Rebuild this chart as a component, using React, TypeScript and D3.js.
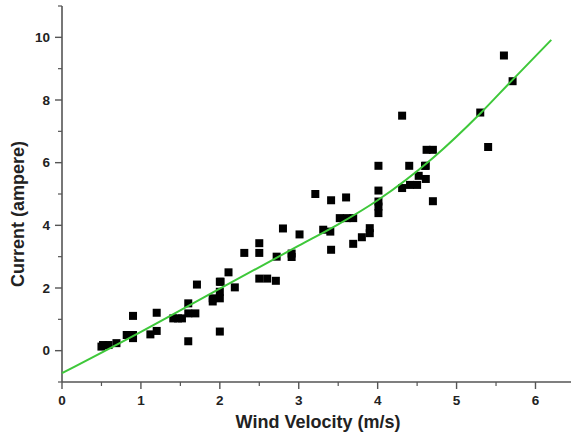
import { useEffect, useRef } from 'react';
import * as d3 from 'd3';

// wind velocity (m/s) of each measurement
const windVelocity = [
  0.5, 0.52, 0.59, 0.69, 0.82, 0.9, 0.9, 0.9, 1.12, 1.2, 1.2, 1.41, 1.47, 1.52, 1.6, 1.6, 1.6, 1.69, 1.71,
  1.91, 1.91, 2.0, 2.0, 2.0, 2.0, 2.01, 2.11, 2.19, 2.31, 2.5, 2.5, 2.5, 2.6, 2.71, 2.72, 2.8, 2.91, 2.91,
  3.01, 3.21, 3.31, 3.4, 3.41, 3.41, 3.52, 3.6, 3.61, 3.69, 3.69, 3.8, 3.9, 3.9,
  4.01, 4.01, 4.01, 4.01, 4.01, 4.31, 4.31, 4.4, 4.41, 4.5, 4.52, 4.61, 4.6, 4.61, 4.62, 4.7, 4.7,
  5.3, 5.4, 5.6, 5.71,
];
// measured current (ampere)
const current = [
  0.13, 0.18, 0.18, 0.24, 0.5, 0.5, 0.4, 1.11, 0.52, 0.63, 1.21, 1.03, 1.03, 1.03, 1.51, 1.19, 0.3, 1.19, 2.11,
  1.57, 1.67, 1.67, 2.2, 1.88, 0.61, 2.2, 2.5, 2.02, 3.12, 3.43, 3.12, 2.3, 2.3, 2.23, 3.0, 3.9, 3.1, 2.99,
  3.71, 5.0, 3.86, 3.8, 4.8, 3.22, 4.23, 4.89, 4.23, 4.23, 3.41, 3.62, 3.75, 3.91,
  5.9, 5.11, 4.76, 4.6, 4.39, 7.5, 5.19, 5.9, 5.29, 5.29, 5.58, 5.48, 5.9, 5.9, 6.41, 6.41, 4.77,
  7.6, 6.5, 9.42, 8.6,
];

// fitted curve
const fitX = [0, 1, 2, 3, 3.5, 4, 4.7, 5.3, 5.7, 6.2];
const fitY = [-0.72, 0.6, 1.98, 3.35, 4.03, 4.8, 6.15, 7.57, 8.62, 9.92];

const xTicks = [0, 1, 2, 3, 4, 5, 6];
const xMinor = [0.5, 1.5, 2.5, 3.5, 4.5, 5.5];
const yTicks = [0, 2, 4, 6, 8, 10];
const yMinor = [-1, 1, 3, 5, 7, 9, 11];

export default function App() {
  const svgRef = useRef<SVGSVGElement | null>(null);

  useEffect(() => {
    if (!svgRef.current) return;
    const width = 577;
    const height = 434;
    const axisColor = '#555';
    const font = '"Liberation Sans", Arial, sans-serif';

    const svg = d3.select(svgRef.current).attr('width', width).attr('height', height);
    svg.selectAll('*').remove();

    const x = d3.scaleLinear().domain([0, 6.45]).range([62, 571]);
    const y = d3.scaleLinear().domain([-1, 11]).range([382, 6]);

    // y axis
    const gy = svg.append('g').attr('transform', `translate(${x(0)},0)`);
    gy.append('line')
      .attr('y1', y(-1)).attr('y2', y(11))
      .attr('stroke', axisColor).attr('stroke-width', 1.6);
    gy.selectAll('.major').data(yTicks).join('line')
      .attr('x1', -7).attr('x2', 0)
      .attr('y1', d => y(d)).attr('y2', d => y(d))
      .attr('stroke', axisColor).attr('stroke-width', 1.4);
    gy.selectAll('.minor').data(yMinor).join('line')
      .attr('class', 'minor')
      .attr('x1', -4).attr('x2', 0)
      .attr('y1', d => y(d)).attr('y2', d => y(d))
      .attr('stroke', axisColor).attr('stroke-width', 1.2);
    gy.selectAll('text').data(yTicks).join('text')
      .attr('x', -12).attr('y', d => y(d))
      .attr('dy', '0.35em')
      .attr('text-anchor', 'end')
      .attr('font-family', font).attr('font-weight', 'bold').attr('font-size', 13.5)
      .attr('fill', '#222')
      .text(d => d);

    // x axis
    const gx = svg.append('g').attr('transform', `translate(0,${y(-1)})`);
    gx.append('line')
      .attr('x1', x(0)).attr('x2', x(6.45))
      .attr('stroke', axisColor).attr('stroke-width', 1.6);
    gx.selectAll('.major').data(xTicks).join('line')
      .attr('y1', 0).attr('y2', 7)
      .attr('x1', d => x(d)).attr('x2', d => x(d))
      .attr('stroke', axisColor).attr('stroke-width', 1.4);
    gx.selectAll('.minor').data(xMinor).join('line')
      .attr('class', 'minor')
      .attr('y1', 0).attr('y2', 4)
      .attr('x1', d => x(d)).attr('x2', d => x(d))
      .attr('stroke', axisColor).attr('stroke-width', 1.2);
    gx.selectAll('text').data(xTicks).join('text')
      .attr('x', d => x(d)).attr('y', 23)
      .attr('text-anchor', 'middle')
      .attr('font-family', font).attr('font-weight', 'bold').attr('font-size', 13.5)
      .attr('fill', '#222')
      .text(d => d);

    // axis titles
    svg.append('text')
      .attr('x', 318).attr('y', 428)
      .attr('text-anchor', 'middle')
      .attr('font-family', font).attr('font-weight', 'bold').attr('font-size', 18)
      .attr('fill', '#222')
      .text('Wind Velocity (m/s)');
    svg.append('text')
      .attr('transform', 'translate(24,214) rotate(-90)')
      .attr('text-anchor', 'middle')
      .attr('font-family', font).attr('font-weight', 'bold').attr('font-size', 18)
      .attr('fill', '#222')
      .text('Current (ampere)');

    // data points
    const points = windVelocity.map((v, i) => ({ v, c: current[i] }));
    const size = 8;
    svg.append('g').selectAll('rect').data(points).join('rect')
      .attr('x', d => x(d.v) - size / 2)
      .attr('y', d => y(d.c) - size / 2)
      .attr('width', size).attr('height', size)
      .attr('fill', '#000');

    // fitted curve
    const fit = fitX.map((v, i) => [v, fitY[i]] as [number, number]);
    const line = d3.line<[number, number]>()
      .x(d => x(d[0]))
      .y(d => y(d[1]))
      .curve(d3.curveMonotoneX);
    svg.append('path')
      .attr('d', line(fit))
      .attr('fill', 'none')
      .attr('stroke', '#3ec83a')
      .attr('stroke-width', 2);
  }, []);

  return <svg ref={svgRef} style={{ position: 'absolute', left: 0, top: 0 }}></svg>;
}
